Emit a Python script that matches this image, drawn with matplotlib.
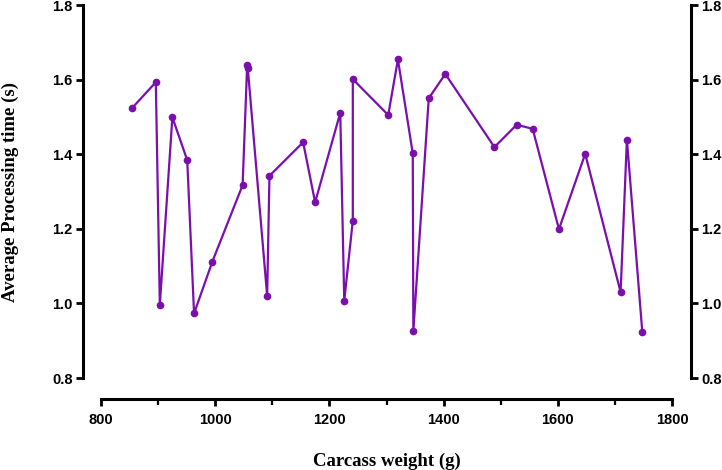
import matplotlib
matplotlib.use("Agg")
import matplotlib.pyplot as plt
from matplotlib.ticker import MultipleLocator

# carcass weight (g) vs average processing time (s)
weight = [854, 896, 903, 925, 951, 963, 995, 1048, 1056, 1057, 1091, 1095,
          1154, 1175, 1219, 1226, 1241, 1241, 1303, 1320, 1346, 1347, 1374,
          1403, 1489, 1528, 1556, 1602, 1648, 1710, 1721, 1748]
proc_time = [1.523, 1.593, 0.996, 1.499, 1.384, 0.973, 1.112, 1.317, 1.640,
             1.632, 1.020, 1.342, 1.432, 1.271, 1.511, 1.007, 1.222, 1.601,
             1.505, 1.654, 1.402, 0.926, 1.550, 1.615, 1.419, 1.479, 1.468,
             1.199, 1.401, 1.030, 1.439, 0.923]
yticks = [0.8, 1.0, 1.2, 1.4, 1.6, 1.8]

col = "#7a0fae"
labfont = {"family": "Liberation Serif", "weight": "bold", "size": 13.5}

fig = plt.figure(figsize=(7.22, 4.70), dpi=100, facecolor="white")
ax = fig.add_axes([101/722, 1-378/470, 571/722, 373/470])

ax.plot(weight, proc_time, color=col, lw=1.6, marker="o", ms=4.5, zorder=3)

ax.set_xlim(800, 1800)
ax.set_ylim(0.8, 1.8)
ax.xaxis.set_major_locator(MultipleLocator(200))
ax.xaxis.set_minor_locator(MultipleLocator(100))
ax.set_yticks(yticks)
ax.set_yticklabels([f"{v:.1f}" for v in yticks])

ax.spines["top"].set_visible(False)
for s in ["left", "right", "bottom"]:
    ax.spines[s].set_linewidth(2.2)
ax.spines["left"].set_position(("outward", 13))
ax.spines["right"].set_position(("outward", 13.5))
ax.spines["bottom"].set_position(("outward", 15))

ax.tick_params(axis="both", which="major", direction="out", length=5, width=2,
               labelsize=10.5, pad=2.5)
ax.tick_params(axis="x", which="major", pad=5)
ax.tick_params(axis="x", which="minor", direction="out", length=4, width=1.6)
ax.tick_params(axis="y", which="both", left=True, right=True,
               labelleft=True, labelright=True)
for lab in ax.get_xticklabels() + ax.get_yticklabels():
    lab.set_fontfamily("Liberation Sans")
    lab.set_fontweight("bold")

ax.set_xlabel("Carcass weight (g)", fontdict=labfont, labelpad=19)
ax.set_ylabel("Average Processing time (s)", fontdict=labfont, labelpad=24)

fig.savefig("out.png", dpi=100, facecolor=fig.get_facecolor())
